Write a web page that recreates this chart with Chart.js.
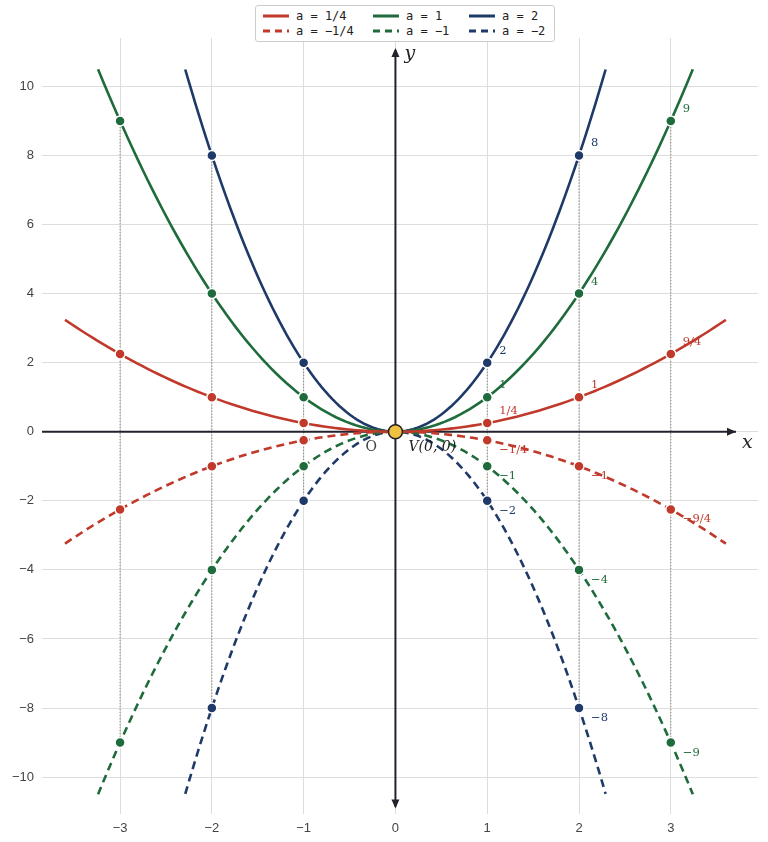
<!DOCTYPE html>
<html><head><meta charset="utf-8">
<script src="https://cdn.jsdelivr.net/npm/chart.js@4/dist/chart.umd.min.js"></script>
<style>
body{margin:0;background:#fff;font-family:"DejaVu Sans",sans-serif}
#wrap{position:relative;width:768px;height:842px}
#legend{position:absolute;left:255px;top:5px;border:1px solid #ccc;border-radius:3px;background:#fff;padding:3px 6px;display:grid;grid-template-columns:110px 96px 80px;row-gap:1px;font-family:"DejaVu Sans Mono",monospace;font-size:12px;color:#222;z-index:2}
#legend div{display:flex;align-items:center;gap:6px;white-space:pre}
</style></head><body>
<div id="wrap"><canvas id="c" width="768" height="842"></canvas><div id="legend"></div></div>
<script>
const coefficients=[0.25,1,2,-0.25,-1,-2];
const seriesLabels=["a = 1/4","a = 1","a = 2","a = \u22121/4","a = \u22121","a = \u22122"];
const seriesColors=["#c0392b","#1e6b3c","#1f3a68","#c0392b","#1e6b3c","#1f3a68"];
const xLimits=[3.6,3.24,2.29,3.6,3.24,2.29];
const markerX=[-3,-2,-1,1,2,3];
const markerLabels={
 "0.25":["1/4","1","9/4"],"1":["1","4","9"],"2":["2","8",null],
 "-0.25":["\u22121/4","\u22121","\u22129/4"],"-1":["\u22121","\u22124","\u22129"],"-2":["\u22122","\u22128",null]};
const xTicks=[-3,-2,-1,0,1,2,3];
const yTicks=[-10,-8,-6,-4,-2,0,2,4,6,8,10];

function curve(a,lim){const p=[];const n=120;for(let i=0;i<=n;i++){const x=-lim+2*lim*i/n;p.push({x,y:a*x*x});}return p;}
const datasets=[];
coefficients.forEach((a,i)=>{
 datasets.push({label:seriesLabels[i],data:curve(a,xLimits[i]),showLine:true,borderColor:seriesColors[i],borderWidth:2.6,pointRadius:0,borderDash:a<0?[8,5]:[],order:2});
});
coefficients.forEach((a,i)=>{
 const pts=markerX.filter(x=>Math.abs(a*x*x)<=10.5).map(x=>({x,y:a*x*x}));
 datasets.push({label:'m'+i,data:pts,showLine:false,pointRadius:5,pointBackgroundColor:seriesColors[i],pointBorderColor:'#fff',pointBorderWidth:1.5,order:1});
});
datasets.push({label:'origin',data:[{x:0,y:0}],showLine:false,pointRadius:7,pointBackgroundColor:'#f0c040',pointBorderColor:'#222',pointBorderWidth:1.5,order:0});

const lg=document.getElementById('legend');
[0,1,2,3,4,5].forEach(i=>{const d=document.createElement('div');
 d.innerHTML=`<svg width="28" height="8"><line x1="1" y1="4" x2="27" y2="4" stroke="${seriesColors[i]}" stroke-width="3" ${i>=3?'stroke-dasharray="7,5"':''}/></svg>${seriesLabels[i]}`;lg.appendChild(d);});

const deco={id:'deco',
 beforeDatasetsDraw(ch){const {ctx,scales:{x,y}}=ch;ctx.save();
  ctx.strokeStyle='#8a8a7a';ctx.lineWidth=1;ctx.setLineDash([1.5,1.5]);
  [-3,-2,-1,1,2,3].forEach(v=>{const vals=coefficients.filter(a=>Math.abs(a*v*v)<=10.5).map(a=>a*v*v);
   const top=Math.max(...vals),bot=Math.min(...vals);
   ctx.beginPath();ctx.moveTo(x.getPixelForValue(v),y.getPixelForValue(top));ctx.lineTo(x.getPixelForValue(v),y.getPixelForValue(bot));ctx.stroke();});
  ctx.setLineDash([]);ctx.strokeStyle='#22222e';ctx.lineWidth=2;
  const x0=x.getPixelForValue(0),y0=y.getPixelForValue(0);
  ctx.beginPath();ctx.moveTo(x.left,y0);ctx.lineTo(x.right-22,y0);ctx.stroke();
  ctx.beginPath();ctx.moveTo(x0,y.bottom-8);ctx.lineTo(x0,y.top+12);ctx.stroke();
  const arrow=(px,py,dx,dy)=>{ctx.beginPath();ctx.moveTo(px,py);ctx.lineTo(px-dx*9-dy*4,py-dy*9-dx*4);ctx.lineTo(px-dx*9+dy*4,py-dy*9+dx*4);ctx.closePath();ctx.fillStyle='#22222e';ctx.fill();};
  arrow(x.right-22,y0,1,0);arrow(x0,y.top+10,0,-1);arrow(x0,y.bottom-6,0,1);
  ctx.restore();},
 afterDatasetsDraw(ch){const {ctx,scales:{x,y}}=ch;ctx.save();
  ctx.font='11.5px "DejaVu Serif",serif';ctx.textBaseline='middle';
  coefficients.forEach((a,i)=>{const labs=markerLabels[String(a)];[1,2,3].forEach((v,k)=>{if(!labs[k])return;
   ctx.fillStyle=seriesColors[i];const px=x.getPixelForValue(v)+12,py=y.getPixelForValue(a*v*v)+(a>0?-12:10);
   ctx.fillText(labs[k],px,py);});});
  ctx.fillStyle='#222';ctx.font='italic 19px "DejaVu Serif",serif';
  const x0=x.getPixelForValue(0),y0=y.getPixelForValue(0);
  ctx.fillText('x',x.right-16,y0+11);ctx.fillText('y',x0+9,y.top+16);
  ctx.font='14px "DejaVu Serif",serif';ctx.fillStyle='#444';ctx.fillText('O',x0-30,y0+16);
  ctx.font='italic 14px "DejaVu Serif",serif';ctx.fillStyle='#222';ctx.fillText('V(0, 0)',x0+13,y0+16);
  ctx.restore();}};

new Chart(document.getElementById('c'),{type:'scatter',data:{datasets},plugins:[deco],
 options:{responsive:false,animation:false,layout:{padding:{top:38,right:10,left:4,bottom:0}},
 plugins:{legend:{display:false},tooltip:{enabled:false}},
 scales:{x:{type:'linear',min:-3.85,max:3.95,afterBuildTicks:s=>{s.ticks=xTicks.map(v=>({value:v}));},
   ticks:{color:'#444',font:{size:13},padding:6,callback:v=>v<0?'\u2212'+(-v):v},grid:{color:'#ddd',drawTicks:false},border:{display:false}},
  y:{min:-11.08,max:11.4,afterBuildTicks:s=>{s.ticks=yTicks.map(v=>({value:v}));},
   ticks:{color:'#444',font:{size:13},padding:8,callback:v=>v<0?'\u2212'+(-v):v},grid:{color:'#ddd',drawTicks:false},border:{display:false}}}}});
</script></body></html>
